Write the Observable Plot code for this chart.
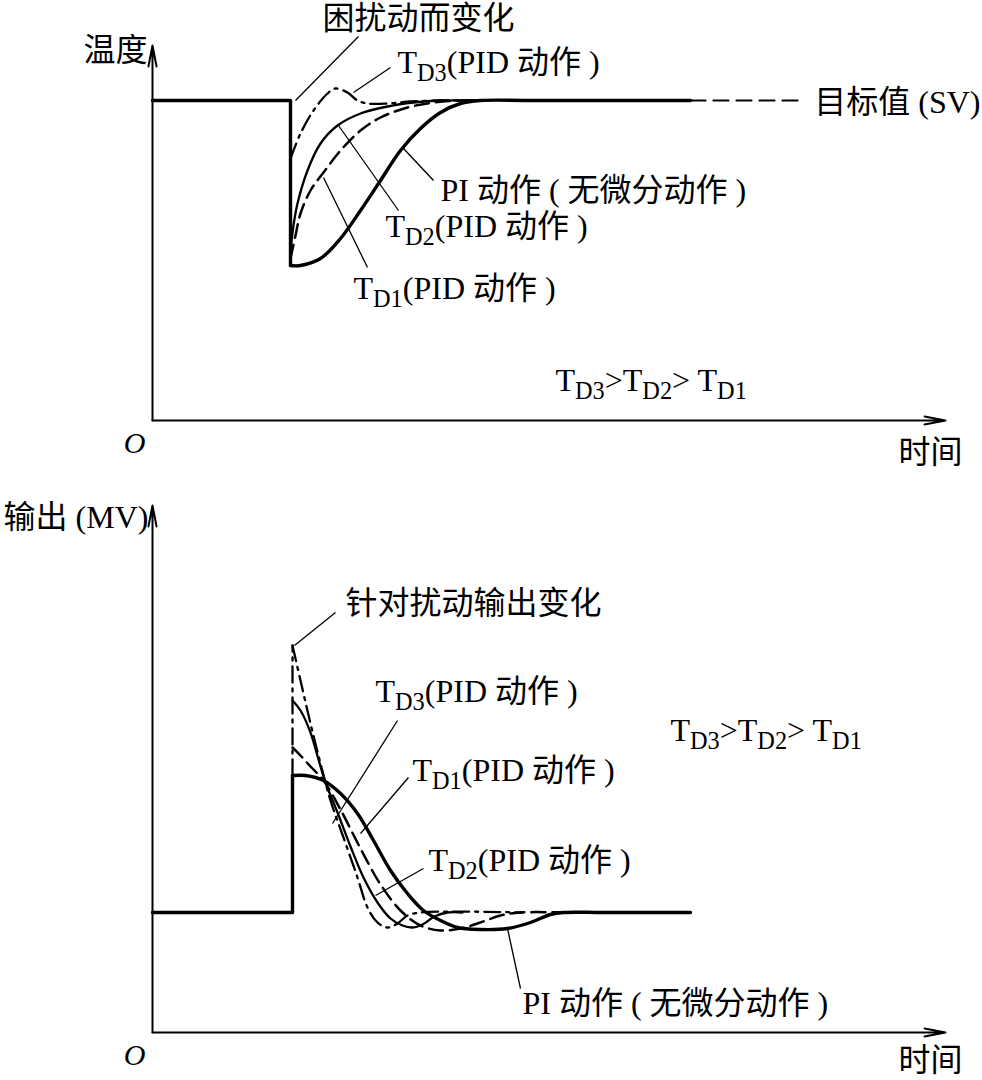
<!DOCTYPE html>
<html><head><meta charset="utf-8">
<script src="https://cdn.jsdelivr.net/npm/d3@7"></script>
<script src="https://cdn.jsdelivr.net/npm/@observablehq/plot@0.6"></script>
<style>
body{margin:0;background:#fff;}
#chart svg{display:block;overflow:visible}
</style></head><body><div id="chart"></div>
<script>
// ---------- top panel: temperature response (time units, temperature units) ----------
const topSetpoint = 32;
const topDisturbT = 13.8;
const topPI  = [[13.8,15.5],[14.8,15.5],[16.8,16.2],[18.8,18.2],[20.8,21.0],[22.8,24.0],[24.8,27.0],[26.8,29.2],[28.8,30.8],[30.8,31.7],[32.8,32],[38,32],[53.8,32]];
const topTD1 = [[13.8,16.2],[14.3,18.5],[14.8,20.7],[15.8,23.0],[17.1,24.8],[18.8,27.0],[20.8,29.0],[22.8,30.3],[25.5,31.3],[28.1,31.8],[30.8,32],[32.8,32]];
const topTD2 = [[13.8,17.0],[14.1,19.5],[14.5,21.7],[15.5,25.0],[16.8,27.7],[18.5,29.5],[20.8,30.7],[23.5,31.4],[26.1,31.8],[28.8,32],[32.8,32]];
const topTD3 = [[13.8,26.2],[14.8,28.7],[16.1,31.0],[17.5,32.7],[18.3,33.2],[19.5,32.8],[20.5,32.0],[21.5,31.7],[23.5,31.7],[25.8,31.9],[28.8,32],[32.8,32]];
const topSVDashed = [[53.8,32],[65.3,32]];
const topTexts = [
  {t:-0.5, v:37,   s:"温度", a:"end"},
  {t:17,   v:40.2, s:"困扰动而变化", a:"start"},
  {t:24.5, v:35.8, s:"T_{D3}(PID 动作 )", a:"start"},
  {t:82.8, v:31.8, s:"目标值 (SV)", a:"end"},
  {t:28.8, v:23,   s:"PI 动作 ( 无微分动作 )", a:"start"},
  {t:23.3, v:19.4, s:"T_{D2}(PID 动作 )", a:"start"},
  {t:20.1, v:13.2, s:"T_{D1}(PID 动作 )", a:"start"},
  {t:40.3, v:4,    s:"T_{D3}>T_{D2}> T_{D1}", a:"start"},
  {t:81,   v:-3.2, s:"时间", a:"end"}
];
const topLeaders = [
  {t1:20.6, v1:38.4, t2:14.3, v2:32},
  {t1:23.8, v1:35.3, t2:20.1, v2:32.8},
  {t1:28.1, v1:24.0, t2:25.1, v2:27.2},
  {t1:24.6, v1:21.0, t2:18.6, v2:29.5},
  {t1:21.5, v1:15.3, t2:17.1, v2:24.3}
];

// ---------- bottom panel: controller output (time units, output units) ----------
const botBase = 12;
const botDisturbT = 14;
const botPI  = [[14,25.7],[15.3,25.7],[17.1,25.2],[18.8,23.9],[20.5,21.9],[22.1,19.2],[23.8,16.2],[25.5,13.9],[27.1,12.2],[28.8,11.2],[30.5,10.5],[32.8,10.3],[35.5,10.4],[37.8,11.0],[39.8,11.8],[41.1,12],[45,12],[53.8,12]];
const botTD1 = [[14,28.5],[14.8,27.7],[15.8,26.6],[17.1,25.2],[18.8,22.3],[20.8,18.4],[22.8,14.8],[24.8,12.2],[26.8,10.7],[28.8,10.2],[30.8,10.4],[32.8,11.0],[34.8,11.7],[36.8,12],[41.1,12]];
const botTD2 = [[14,33.2],[14.8,32.2],[15.8,30.0],[16.6,27.3],[17.3,25.0],[18.5,22.0],[19.8,18.6],[21.1,15.5],[22.5,13.0],[23.8,11.4],[25.0,10.7],[26.0,10.5],[27.0,10.8],[28.2,11.6],[29.5,12],[31,12]];
const botTD3 = [[14,38.7],[14.8,35.2],[15.8,30.9],[16.8,26.9],[17.8,23.2],[19.1,19.5],[20.5,15.5],[21.5,12.5],[22.5,11.0],[23.5,10.5],[24.5,10.9],[25.5,11.7],[26.8,12],[37,12]];
const botTexts = [
  {t:-0.4, v:51.5, s:"输出 (MV)", a:"end"},
  {t:19.3, v:42.9, s:"针对扰动输出变化", a:"start"},
  {t:22.3, v:34.1, s:"T_{D3}(PID 动作 )", a:"start"},
  {t:26,   v:26.2, s:"T_{D1}(PID 动作 )", a:"start"},
  {t:27.6, v:17.2, s:"T_{D2}(PID 动作 )", a:"start"},
  {t:51.8, v:30.2, s:"T_{D3}>T_{D2}> T_{D1}", a:"start"},
  {t:37,   v:2.9,  s:"PI 动作 ( 无微分动作 )", a:"start"},
  {t:81,   v:-2.8, s:"时间", a:"end"}
];
const botLeaders = [
  {t1:18.3, v1:42.0, t2:14.2, v2:38.7},
  {t1:24.5, v1:31.2, t2:18.0, v2:20.9},
  {t1:25.6, v1:25.5, t2:20.8, v2:19.9},
  {t1:27.1, v1:16.4, t2:22.3, v2:13.7},
  {t1:36.8, v1:4.4,  t2:35.5, v2:10.4}
];

// ---------- styles ----------
const FONT = "'Liberation Serif','Noto Sans CJK SC',serif";
const STY = {
  PI:  {w:3.4, dash:null},
  TD1: {w:2.5, dash:"14,7"},
  TD2: {w:2.3, dash:null},
  TD3: {w:2.3, dash:"16,6,3,6"}
};
const XMAX = 79.3;

function curve(pts, k){
  const o = {x:d=>d[0], y:d=>d[1], curve:"catmull-rom", stroke:"#000", strokeWidth:STY[k].w, strokeLinejoin:"round"};
  if (STY[k].dash) o.strokeDasharray = STY[k].dash;
  return Plot.line(pts, o);
}
function seg(pts, k){
  const o = {x:d=>d[0], y:d=>d[1], stroke:"#000", strokeWidth:STY[k].w};
  if (STY[k].dash) o.strokeDasharray = STY[k].dash;
  return Plot.line(pts, o);
}
function texts(arr){
  return [
    Plot.text(arr.filter(d=>d.a==="start"), {x:"t", y:"v", text:"s", textAnchor:"start", fontSize:32, fontFamily:FONT, fill:"#000"}),
    Plot.text(arr.filter(d=>d.a==="end"), {x:"t", y:"v", text:"s", textAnchor:"end", fontSize:32, fontFamily:FONT, fill:"#000"})
  ];
}
function axesMarks(ymax){
  return Plot.arrow([{x1:0,y1:0,x2:0,y2:ymax},{x1:0,y1:0,x2:XMAX,y2:0}],
    {x1:"x1",y1:"y1",x2:"x2",y2:"y2", stroke:"#000", strokeWidth:2, headLength:16, headAngle:22});
}
function subscripts(svg){
  d3.select(svg).selectAll("text").each(function(){
    const s = this.textContent;
    if (!s.includes("_{")) return;
    const parts = s.split(/_\{([^}]*)\}/);
    while (this.firstChild) this.removeChild(this.firstChild);
    const sel = d3.select(this);
    let shifted = false;
    parts.forEach((p,i)=>{
      const ts = sel.append("tspan").text(p);
      if (i%2===1){ ts.attr("dy", 8).style("font-size","76%"); shifted = true; }
      else if (shifted){ ts.attr("dy", -8); shifted = false; }
    });
  });
}

const topPlot = Plot.plot({
  width:982, height:480, marginLeft:152, marginRight:37, marginTop:45, marginBottom:60,
  x:{domain:[0,XMAX], axis:null}, y:{domain:[0,37.5], axis:null},
  style:{fontFamily:FONT, background:"#fff", overflow:"visible"},
  marks:[
    axesMarks(37.5),
    seg([[0,topSetpoint],[topDisturbT,topSetpoint],[topDisturbT,15.5]], "PI"),
    Plot.line(topSVDashed, {x:d=>d[0], y:d=>d[1], stroke:"#000", strokeWidth:2.2, strokeDasharray:"15,8"}),
    curve(topTD3,"TD3"), curve(topTD2,"TD2"), curve(topTD1,"TD1"), curve(topPI,"PI"),
    Plot.link(topLeaders, {x1:"t1",y1:"v1",x2:"t2",y2:"v2", stroke:"#000", strokeWidth:1.3}),
    ...texts(topTexts),
    Plot.text([{t:-0.7,v:-2.3}], {x:"t", y:"v", text:()=>"O", fontSize:30, fontStyle:"italic", fontFamily:FONT, textAnchor:"end"})
  ]
});

const botPlot = Plot.plot({
  width:982, height:600, marginLeft:152, marginRight:37, marginTop:25, marginBottom:48,
  x:{domain:[0,XMAX], axis:null}, y:{domain:[0,52.7], axis:null},
  style:{fontFamily:FONT, background:"#fff", overflow:"visible"},
  marks:[
    axesMarks(52.7),
    seg([[0,botBase],[botDisturbT,botBase],[botDisturbT,25.7]], "PI"),
    seg([[botDisturbT,25.7],[botDisturbT,38.7]], "TD3"),
    curve(botTD3,"TD3"), curve(botTD2,"TD2"), curve(botTD1,"TD1"), curve(botPI,"PI"),
    Plot.link(botLeaders, {x1:"t1",y1:"v1",x2:"t2",y2:"v2", stroke:"#000", strokeWidth:1.3}),
    ...texts(botTexts),
    Plot.text([{t:-0.7,v:-2.3}], {x:"t", y:"v", text:()=>"O", fontSize:30, fontStyle:"italic", fontFamily:FONT, textAnchor:"end"})
  ]
});

subscripts(topPlot); subscripts(botPlot);
document.getElementById("chart").append(topPlot, botPlot);
</script>
</body></html>
